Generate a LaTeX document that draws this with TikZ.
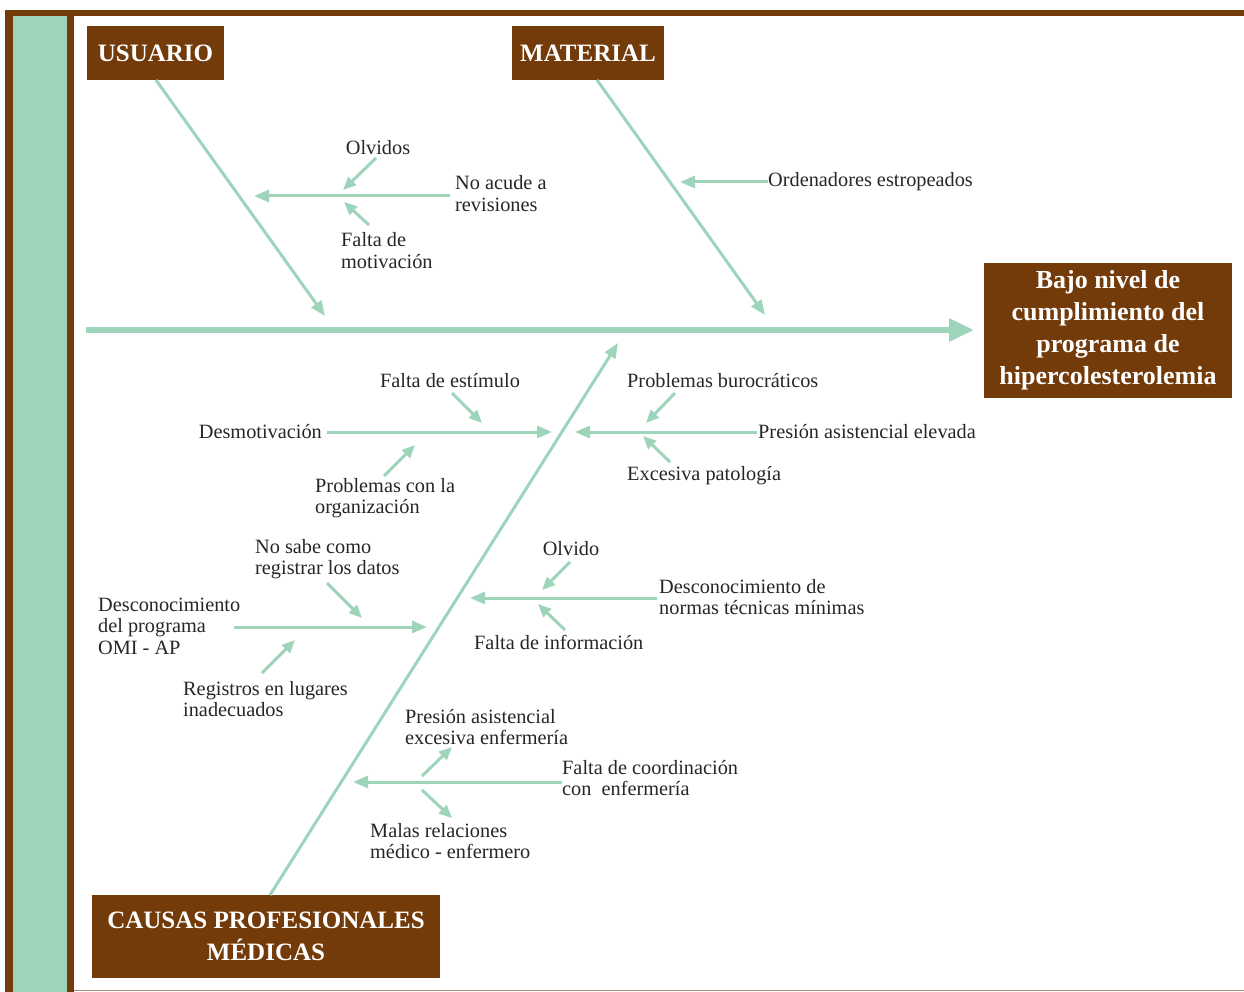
\documentclass[tikz,border=0pt]{standalone}
\usepackage{fontspec}
\setmainfont{Liberation Serif}
\usetikzlibrary{arrows.meta}
\definecolor{fbrown}{HTML}{733A0A}
\definecolor{fgreen}{HTML}{9DD4BA}
\definecolor{ftext}{HTML}{262626}
\definecolor{fline}{HTML}{A88A70}
\tikzset{
  catbox/.style={fill=fbrown, text=white, font=\bfseries\fontsize{25}{32}\selectfont, align=center, inner sep=0pt},
  lbl/.style={text=ftext, font=\fontsize{20.3}{21.5}\selectfont, align=left, inner sep=0pt},
  spinearrow/.style={draw=fgreen, line width=6pt, -{Triangle[length=25pt,width=22pt]}},
  bonearrow/.style={draw=fgreen, line width=3pt, -{Triangle[length=15pt,width=12pt]}},
  twig/.style={draw=fgreen, line width=3pt, -{Triangle[length=13pt,width=11pt]}}
}
\begin{document}
\begin{tikzpicture}[x=1pt,y=-1pt]
\useasboundingbox (0,0) rectangle (1244,992);
% frame
\fill[fbrown] (5,10) rectangle (1244,16);
\fill[fbrown] (5,10) rectangle (74,992);
\fill[fgreen] (13,16) rectangle (67,992);
\draw[fline, line width=1pt] (74,990.5) -- (1244,990.5);

% category boxes
\node[catbox, minimum width=137pt, minimum height=54pt] (usuario) at (155.5,53) {USUARIO};
\node[catbox, minimum width=152pt, minimum height=54pt] (material) at (588,53) {MATERIAL};
\node[catbox, font=\bfseries\fontsize{26}{32}\selectfont, minimum width=248pt, minimum height=135pt] (effect) at (1108,330.5) {Bajo nivel de\\cumplimiento del\\programa de\\hipercolesterolemia};
\node[catbox, minimum width=348pt, minimum height=83pt] (causas) at (266,936.5) {CAUSAS PROFESIONALES\\MÉDICAS};

% coordinates
\coordinate (spS) at (86,330);
\coordinate (spE) at (974,330);
\coordinate (uS) at (156,80);
\coordinate (uE) at (325,316);
\coordinate (mS) at (597,80);
\coordinate (mE) at (765,315);
\coordinate (cS) at (270,895);
\coordinate (cE) at (618,343);

\coordinate (u1s) at (450,196); \coordinate (u1e) at (254,196);
\coordinate (u1as) at (376,158); \coordinate (u1ae) at (343,190);
\coordinate (u1bs) at (369,225); \coordinate (u1be) at (344,202);
\coordinate (m1s) at (768,182); \coordinate (m1e) at (680,182);

\coordinate (c1Ls) at (327,432); \coordinate (c1Le) at (552,432);
\coordinate (c1Las) at (452,393); \coordinate (c1Lae) at (482,423);
\coordinate (c1Lbs) at (384,476); \coordinate (c1Lbe) at (415,445);
\coordinate (c1Rs) at (757,432); \coordinate (c1Re) at (575,432);
\coordinate (c1Ras) at (675,393); \coordinate (c1Rae) at (646,423);
\coordinate (c1Rbs) at (670,462); \coordinate (c1Rbe) at (643,436);

\coordinate (c2Ls) at (234,627); \coordinate (c2Le) at (427,627);
\coordinate (c2Las) at (327,583); \coordinate (c2Lae) at (362,618);
\coordinate (c2Lbs) at (262,673); \coordinate (c2Lbe) at (295,640);
\coordinate (c2Rs) at (657,598); \coordinate (c2Re) at (470,598);
\coordinate (c2Ras) at (570,562); \coordinate (c2Rae) at (542,590);
\coordinate (c2Rbs) at (565,630); \coordinate (c2Rbe) at (538,604);

\coordinate (c3s) at (562,782); \coordinate (c3e) at (353,782);
\coordinate (c3as) at (422,776); \coordinate (c3ae) at (452,747);
\coordinate (c3bs) at (422,790); \coordinate (c3be) at (452,818);

% spine and bones
\draw[spinearrow] (spS) -- (spE);
\draw[bonearrow] (uS) -- (uE);
\draw[bonearrow] (mS) -- (mE);
\draw[bonearrow] (cS) -- (cE);

% sub arrows
\draw[bonearrow] (u1s) -- (u1e);
\draw[twig] (u1as) -- (u1ae);
\draw[twig] (u1bs) -- (u1be);
\draw[bonearrow] (m1s) -- (m1e);

\draw[bonearrow] (c1Ls) -- (c1Le);
\draw[twig] (c1Las) -- (c1Lae);
\draw[twig] (c1Lbs) -- (c1Lbe);
\draw[bonearrow] (c1Rs) -- (c1Re);
\draw[twig] (c1Ras) -- (c1Rae);
\draw[twig] (c1Rbs) -- (c1Rbe);

\draw[bonearrow] (c2Ls) -- (c2Le);
\draw[twig] (c2Las) -- (c2Lae);
\draw[twig] (c2Lbs) -- (c2Lbe);
\draw[bonearrow] (c2Rs) -- (c2Re);
\draw[twig] (c2Ras) -- (c2Rae);
\draw[twig] (c2Rbs) -- (c2Rbe);

\draw[bonearrow] (c3s) -- (c3e);
\draw[twig] (c3as) -- (c3ae);
\draw[twig] (c3bs) -- (c3be);

% labels
\node[lbl, anchor=west] (lNoAcude) at (455,193.5) {No acude a\\revisiones};
\node[lbl] (lOlvidos) at (378,148) {Olvidos};
\node[lbl, anchor=west] (lFaltaMot) at (341,250.5) {Falta de\\motivación};
\node[lbl, anchor=west] (lOrden) at (768,182) {Ordenadores estropeados};

\node[lbl, anchor=east] (lDesmot) at (322,432) {Desmotivación};
\node[lbl] (lEstim) at (450,381) {Falta de estímulo};
\node[lbl, anchor=west] (lOrgan) at (315,498) {Problemas con la\\organización};
\node[lbl, anchor=west] (lBuro) at (627,381) {Problemas burocráticos};
\node[lbl, anchor=west] (lPresElev) at (758,432) {Presión asistencial elevada};
\node[lbl, anchor=west] (lPatol) at (627,476) {Excesiva patología};

\node[lbl, anchor=west] (lNoSabe) at (255,559) {No sabe como\\registrar los datos};
\node[lbl, anchor=west] (lOMI) at (98,626) {Desconocimiento\\del programa\\OMI - AP};
\node[lbl, anchor=west] (lRegis) at (183,699) {Registros en lugares\\inadecuados};
\node[lbl] (lOlvido) at (571,549) {Olvido};
\node[lbl, anchor=west] (lNormas) at (659,597) {Desconocimiento de\\normas técnicas mínimas};
\node[lbl, anchor=west] (lInfo) at (474,642) {Falta de información};

\node[lbl, anchor=west] (lPresEnf) at (405,727) {Presión asistencial\\excesiva enfermería};
\node[lbl, anchor=west] (lCoord) at (562,778) {Falta de coordinación\\con~ enfermería};
\node[lbl, anchor=west] (lMalas) at (370,841) {Malas relaciones\\médico - enfermero};
\end{tikzpicture}
\end{document}
